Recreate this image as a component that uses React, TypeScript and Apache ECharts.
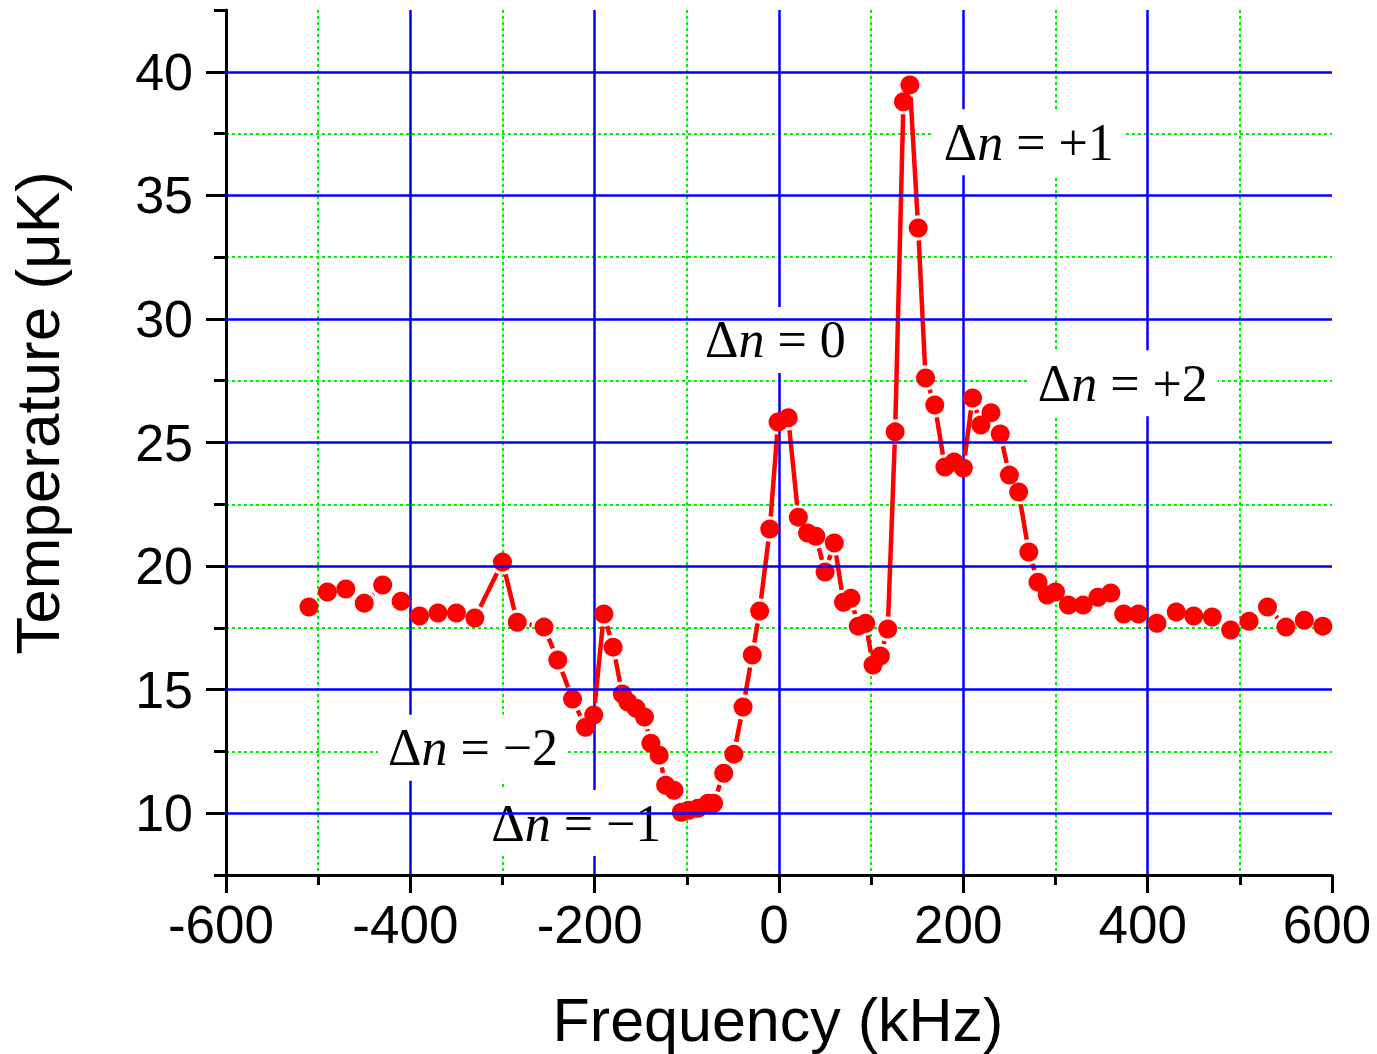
import React, { useEffect, useRef } from 'react';
import * as echarts from 'echarts';

const frequency = [
  -510, -490, -470, -450, -430, -410, -390, -370, -350, -330, -300, -284, -255, -240, -224, -210,
  -201, -190, -180, -170, -164, -155, -146, -139, -130, -123, -114, -106, -98, -88, -77, -71, -60,
  -49, -39, -29, -21, -10, -1, 10, 21, 31, 40, 50, 60, 70, 78, 86, 94, 102, 110, 118, 126, 135, 142,
  151, 159, 169, 180, 190, 200, 210, 219, 230, 240, 250, 260, 271, 281, 291, 300, 314, 330, 346,
  360, 374, 390, 410, 431, 450, 470, 490, 510, 530, 550, 570, 590,
];

const temperature = [
  18.34, 18.95, 19.07, 18.5, 19.23, 18.58, 17.98, 18.1, 18.1, 17.9, 20.16, 17.73, 17.53, 16.2, 14.62,
  13.48, 13.97, 18.06, 16.72, 14.82, 14.5, 14.25, 13.89, 12.83, 12.35, 11.13, 10.93, 10.04, 10.12,
  10.2, 10.4, 10.4, 11.62, 12.39, 14.3, 16.4, 18.18, 21.5, 25.83, 26.0, 21.98, 21.34, 21.21, 19.76,
  20.93, 18.54, 18.7, 17.57, 17.69, 16.0, 16.36, 17.45, 25.43, 38.79, 39.47, 33.68, 27.61, 26.52,
  24.01, 24.21, 23.97, 26.8, 25.71, 26.2, 25.34, 23.68, 23.0, 20.57, 19.35, 18.83, 18.95, 18.42,
  18.42, 18.74, 18.91, 18.06, 18.06, 17.69, 18.14, 17.98, 17.94, 17.41, 17.77, 18.34, 17.53, 17.81,
  17.57,
];

const majorY = [10, 15, 20, 25, 30, 35, 40];
const minorY = [7.5, 12.5, 17.5, 22.5, 27.5, 32.5, 37.5, 42.5];

const labelX = [-4, 271, 373, -332, -220];
const labelY = [29.15, 37.15, 27.4, 12.65, 9.6];
const labelSuffix = [' = 0', ' = +1', ' = +2', ' = \u22122', ' = \u22121'];

const RED = '#FF0000';
const BLUE = '#0000FF';
const GREEN = '#00EE00';
const SANS = '"Liberation Sans", Arial, sans-serif';
const SERIF = '"Liberation Serif", "Times New Roman", serif';

export default function App() {
  const ref = useRef<HTMLDivElement>(null);

  useEffect(() => {
    if (!ref.current) return;
    const chart = echarts.init(ref.current, null, { renderer: 'svg' });

    const points = frequency.map((f, i) => [f, temperature[i]]);
    const segments: number[][] = [];
    for (let i = 0; i < points.length - 1; i++) {
      segments.push([points[i][0], points[i][1], points[i + 1][0], points[i + 1][1]]);
    }
    const labels = labelX.map((x, i) => [x, labelY[i], i]);
    const gap = 12.5;

    const option: any = {
      animation: false,
      grid: { left: 226, right: 45, top: 10, bottom: 179, containLabel: false },
      xAxis: {
        type: 'value',
        min: -600,
        max: 600,
        interval: 200,
        axisLine: { show: true, onZero: false, lineStyle: { color: '#000', width: 3 } },
        axisTick: { show: true, inside: false, length: 18, lineStyle: { color: '#000', width: 3 } },
        minorTick: { show: true, splitNumber: 2, length: 10, lineStyle: { color: '#000', width: 3 } },
        axisLabel: {
          color: '#000',
          fontSize: 53,
          fontFamily: SANS,
          margin: 23,
          padding: [0, 10, 0, 0],
        },
        splitLine: {
          show: true,
          showMinLine: false,
          showMaxLine: false,
          lineStyle: { color: BLUE, width: 2.5 },
        },
        minorSplitLine: { show: true, lineStyle: { color: GREEN, width: 2, type: [3, 3] } },
      },
      yAxis: [
        {
          type: 'value',
          min: 7.5,
          max: 42.5,
          interval: 2.5,
          position: 'left',
          axisLine: { show: true, onZero: false, lineStyle: { color: '#000', width: 3 } },
          axisTick: {
            show: true,
            length: 12,
            customValues: minorY,
            lineStyle: { color: '#000', width: 3 },
          },
          axisLabel: {
            color: '#000',
            fontSize: 52,
            fontFamily: SANS,
            margin: 33,
            customValues: majorY,
            formatter: (v: number) => (Math.abs(v % 5) < 1e-6 ? String(v) : ''),
          },
          splitLine: {
            show: true,
            showMinLine: false,
            showMaxLine: false,
            lineStyle: { color: GREEN, width: 2, type: [3, 3] },
          },
        },
        {
          type: 'value',
          min: 7.5,
          max: 42.5,
          interval: 2.5,
          position: 'left',
          axisLine: { show: false, onZero: false },
          axisTick: {
            show: true,
            length: 20,
            customValues: majorY,
            lineStyle: { color: '#000', width: 3 },
          },
          axisLabel: { show: false },
          splitLine: { show: false },
        },
      ],
      graphic: [
        {
          type: 'text',
          x: 778,
          y: 1020,
          style: {
            text: 'Frequency (kHz)',
            fontSize: 61,
            fontFamily: SANS,
            fill: '#000',
            align: 'center',
            verticalAlign: 'middle',
          },
        },
        {
          type: 'text',
          x: 37,
          y: 413,
          rotation: Math.PI / 2,
          style: {
            text: 'Temperature (\u03bcK)',
            fontSize: 62,
            fontFamily: SANS,
            fill: '#000',
            align: 'center',
            verticalAlign: 'middle',
          },
        },
      ],
      series: [
        {
          type: 'line',
          data: [],
          z: 1,
          silent: true,
          symbol: 'none',
          markLine: {
            silent: true,
            symbol: ['none', 'none'],
            label: { show: false },
            emphasis: { disabled: true },
            lineStyle: { color: BLUE, width: 2.5, type: 'solid' },
            data: majorY.map((v) => ({ yAxis: v })),
          },
        },
        {
          type: 'custom',
          z: 2,
          silent: true,
          clip: false,
          encode: { x: 0, y: 1 },
          data: labels,
          renderItem: (params: any, api: any) => {
            const p = api.coord([api.value(0), api.value(1)]);
            const idx = api.value(2);
            return {
              type: 'text',
              x: p[0],
              y: p[1],
              style: {
                text: `{d|\u0394}{n|n}{d|${labelSuffix[idx]}}`,
                align: 'center',
                verticalAlign: 'middle',
                backgroundColor: '#FFFFFF',
                padding: [8, 10],
                rich: {
                  d: { fontFamily: SERIF, fontSize: 52, lineHeight: 50, fill: '#000' },
                  n: {
                    fontFamily: SERIF,
                    fontSize: 52,
                    lineHeight: 50,
                    fill: '#000',
                    fontStyle: 'italic',
                  },
                },
              },
            };
          },
        },
        {
          type: 'custom',
          z: 3,
          silent: true,
          clip: false,
          encode: { x: [0, 2], y: [1, 3] },
          data: segments,
          renderItem: (params: any, api: any) => {
            const p1 = api.coord([api.value(0), api.value(1)]);
            const p2 = api.coord([api.value(2), api.value(3)]);
            const dx = p2[0] - p1[0];
            const dy = p2[1] - p1[1];
            const len = Math.sqrt(dx * dx + dy * dy);
            if (len <= 2 * gap) return null;
            const ux = dx / len;
            const uy = dy / len;
            return {
              type: 'line',
              shape: {
                x1: p1[0] + ux * gap,
                y1: p1[1] + uy * gap,
                x2: p2[0] - ux * gap,
                y2: p2[1] - uy * gap,
              },
              style: { stroke: RED, lineWidth: 4.5 },
            };
          },
        },
        {
          type: 'scatter',
          z: 4,
          silent: true,
          symbol: 'circle',
          symbolSize: 19,
          itemStyle: { color: RED, opacity: 1 },
          data: points,
        },
      ],
    };

    chart.setOption(option);
    return () => chart.dispose();
  }, []);

  return (
    <div
      ref={ref}
      style={{ position: 'fixed', left: 0, top: 0, width: 1377, height: 1054, background: '#fff' }}
    />
  );
}
